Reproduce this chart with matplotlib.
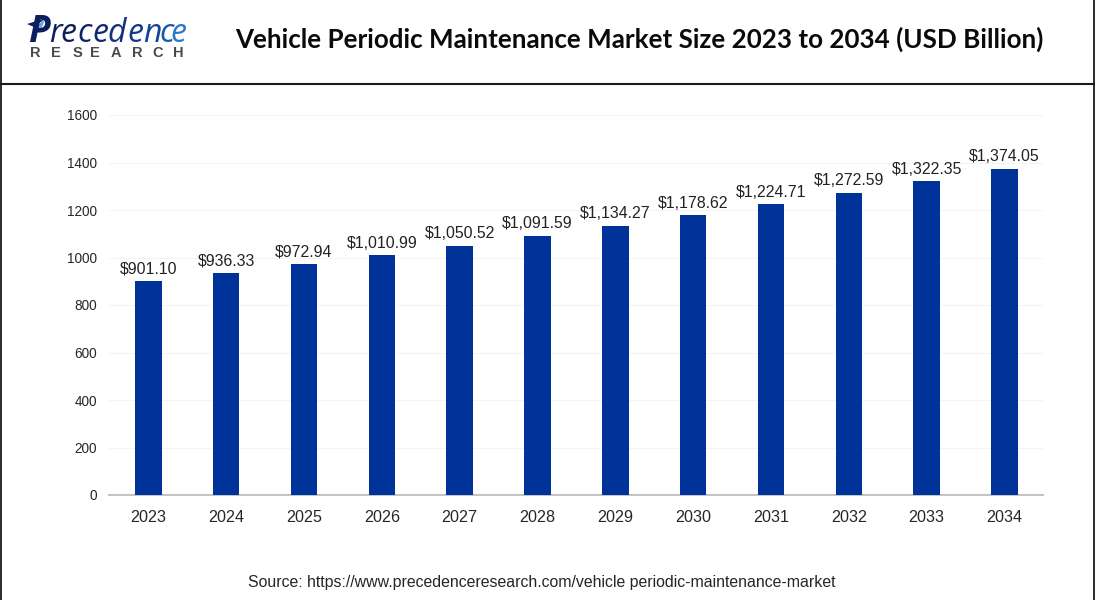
import matplotlib
matplotlib.use('Agg')
import matplotlib.pyplot as plt
from matplotlib.patches import Polygon

years = ['2023', '2024', '2025', '2026', '2027', '2028', '2029', '2030', '2031', '2032', '2033', '2034']
values = [901.10, 936.33, 972.94, 1010.99, 1050.52, 1091.59, 1134.27, 1178.62, 1224.71, 1272.59, 1322.35, 1374.05]
y_ticks = [0, 200, 400, 600, 800, 1000, 1200, 1400, 1600]
logo_letters = ['r', 'e', 'c', 'e', 'd', 'e', 'n', 'c', 'e']
logo_colors = ['#0c1f5c', '#0c1f5c', '#0e2468', '#10296f', '#12307c', '#14378a', '#17439a', '#1a55ae', '#2a78c8']
logo_pos = [49, 60, 77, 92, 107, 127, 143, 159, 170]
sub_letters = ['R', 'E', 'S', 'E', 'A', 'R', 'C', 'H']
sub_pos = [30, 51, 73, 90, 111, 132, 152, 173]

W, H = 1095, 600
plt.rcParams['font.family'] = ['Liberation Sans', 'DejaVu Sans']

fig = plt.figure(figsize=(W / 100, H / 100), dpi=100)
ax = fig.add_axes([109.4 / W, 1 - 495 / H, 934 / W, 380 / H])

x = range(len(years))
ax.bar(x, values, width=0.34, color='#003399', zorder=3)
for i, v in zip(x, values):
    ax.text(i, v + 18, f'${v:,.2f}', ha='center', va='bottom', fontsize=11.4, color='#222222')

ax.set_xlim(-0.5, 11.5)
ax.set_ylim(0, 1600)
ax.set_xticks(list(x))
ax.set_xticklabels(years)
ax.set_yticks(y_ticks)
ax.tick_params(axis='y', length=0, labelsize=9.8, labelcolor='#262626', pad=9)
ax.tick_params(axis='x', length=0, labelsize=11.6, labelcolor='#262626', pad=11)
ax.grid(axis='y', color='#f4f4f4', linewidth=0.8, zorder=0)
for side in ['top', 'right', 'left']:
    ax.spines[side].set_visible(False)
ax.spines['bottom'].set_color('#c4c4c4')
ax.spines['bottom'].set_linewidth(1.5)

# frame and header rule
fig.add_artist(plt.Line2D([0, 1], [1 - 84 / H, 1 - 84 / H], color='#1a1a1a', linewidth=1.5))
fig.add_artist(plt.Line2D([0.6 / W, 0.6 / W], [0, 1], color='#1a1a1a', linewidth=1.3))
fig.add_artist(plt.Line2D([1 - 1 / W, 1 - 1 / W], [0, 1], color='#1a1a1a', linewidth=1.3))

fig.text(639.5 / W, 1 - 39 / H, 'Vehicle Periodic Maintenance Market Size 2023 to 2034 (USD Billion)',
         ha='center', va='center', fontsize=18.75, fontweight='bold', family='Lato', color='#0a0a0a')
fig.text(542 / W, 1 - 582 / H, 'Source: https://www.precedenceresearch.com/vehicle periodic-maintenance-market',
         ha='center', va='center', fontsize=11.4, color='#262626')

# logo
fig.text(28 / W, 1 - 42 / H, 'P', ha='left', va='baseline', fontsize=27, fontweight='bold',
         style='italic', family='Open Sans', color='#0c1f5c')
for letter, c, px in zip(logo_letters, logo_colors, logo_pos):
    fig.text(px / W, 1 - 42 / H, letter, ha='left', va='baseline', fontsize=23,
             style='italic', family='Open Sans', color=c)
fig.add_artist(Polygon([[27 / W, 1 - 24 / H], [46 / W, 1 - 18 / H], [34 / W, 1 - 27 / H]],
                       closed=True, transform=fig.transFigure, facecolor='#0c1f5c', edgecolor='none'))
fig.add_artist(Polygon([[46 / W, 1 - 18 / H], [37 / W, 1 - 26 / H], [39 / W, 1 - 33 / H]],
                       closed=True, transform=fig.transFigure, facecolor='#6fa3d8', edgecolor='none'))
for letter, px in zip(sub_letters, sub_pos):
    fig.text(px / W, 1 - 57 / H, letter, ha='left', va='baseline', fontsize=10.5, fontweight='bold',
             color='#4a4a4a')

fig.savefig('out.png', dpi=100)
